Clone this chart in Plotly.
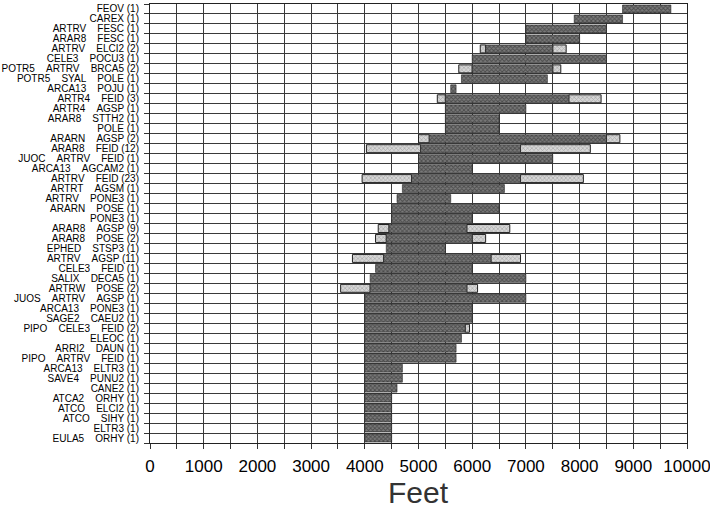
import plotly.graph_objects as go

# Plant community labels, top to bottom (associate / dominant / species (plots))
labels = [
    ["FEOV (1)"],
    ["CAREX (1)"],
    ["ARTRV", "FESC (1)"],
    ["ARAR8", "FESC (1)"],
    ["ARTRV", "ELCI2 (2)"],
    ["CELE3", "POCU3 (1)"],
    ["POTR5", "ARTRV", "BRCA5 (2)"],
    ["POTR5", "SYAL", "POLE (1)"],
    ["ARCA13", "POJU (1)"],
    ["ARTR4", "FEID (3)"],
    ["ARTR4", "AGSP (1)"],
    ["ARAR8", "STTH2 (1)"],
    ["POLE (1)"],
    ["ARARN", "AGSP (2)"],
    ["ARAR8", "FEID (12)"],
    ["JUOC", "ARTRV", "FEID (1)"],
    ["ARCA13", "AGCAM2 (1)"],
    ["ARTRV", "FEID (23)"],
    ["ARTRT", "AGSM (1)"],
    ["ARTRV", "PONE3 (1)"],
    ["ARARN", "POSE (1)"],
    ["PONE3 (1)"],
    ["ARAR8", "AGSP (9)"],
    ["ARAR8", "POSE (2)"],
    ["EPHED", "STSP3 (1)"],
    ["ARTRV", "AGSP (11)"],
    ["CELE3", "FEID (1)"],
    ["SALIX", "DECA5 (1)"],
    ["ARTRW", "POSE (2)"],
    ["JUOS", "ARTRV", "AGSP (1)"],
    ["ARCA13", "PONE3 (1)"],
    ["SAGE2", "CAEU2 (1)"],
    ["PIPO", "CELE3", "FEID (2)"],
    ["ELEOC (1)"],
    ["ARRI2", "DAUN (1)"],
    ["PIPO", "ARTRV", "FEID (1)"],
    ["ARCA13", "ELTR3 (1)"],
    ["SAVE4", "PUNU2 (1)"],
    ["CANE2 (1)"],
    ["ATCA2", "ORHY (1)"],
    ["ATCO", "ELCI2 (1)"],
    ["ATCO", "SIHY (1)"],
    ["ELTR3 (1)"],
    ["EULA5", "ORHY (1)"],
]

# Elevation ranges in feet: outer (light) extremes and core (dark) range
low_start = [None, None, None, None, 6150, None, 5750, None, None, 5350,
             None, None, None, 5000, 4030, None, None, 3950, None, None,
             None, None, 4250, 4200, None, 3770, None, None, 3550, None,
             None, None, None, None, None, None, None, None, None, None,
             None, None, None, None]
core_start = [8800, 7900, 7000, 7000, 6250, 6000, 6000, 5800, 5600, 5500,
              5500, 5500, 5500, 5200, 5040, 5000, 5000, 4870, 4700, 4600,
              4500, 4500, 4450, 4400, 4400, 4350, 4200, 4100, 4100, 4000,
              4000, 4000, 4000, 4000, 4000, 4000, 4000, 4000, 4000, 4000,
              4000, 4000, 4000, 4000]
core_end = [9700, 8800, 8500, 8000, 7500, 8500, 7500, 7400, 5700, 7800,
            7000, 6500, 6500, 8500, 6900, 7500, 6000, 6900, 6600, 5600,
            6500, 6000, 5900, 6000, 5500, 6350, 6000, 7000, 5900, 7000,
            6000, 6000, 5870, 5800, 5700, 5700, 4700, 4700, 4600, 4500,
            4500, 4500, 4500, 4500]
high_end = [None, None, None, None, 7750, None, 7650, None, None, 8400,
            None, None, None, 8750, 8200, None, None, 8070, None, None,
            None, None, 6700, 6250, None, 6900, None, None, 6100, None,
            None, None, 5950, None, None, None, None, None, None, None,
            None, None, None, None]

x_ticks = [0, 1000, 2000, 3000, 4000, 5000, 6000, 7000, 8000, 9000, 10000]

gap = "\u00a0" * 4
tick_text = [gap.join(parts) for parts in labels]
rows = list(range(len(labels)))

dark_marker = dict(
    color="#555555",
    line=dict(color="#222222", width=0.6),
    pattern=dict(shape="x", fgcolor="#1e1e1e", bgcolor="#7a7a7a", size=3, solidity=0.5),
)
light_marker = dict(
    color="#bdbdbd",
    line=dict(color="#222222", width=1),
    pattern=dict(shape="x", fgcolor="#7e7e7e", bgcolor="#d6d6d6", size=3, solidity=0.4),
)

fig = go.Figure()

lo_y = [r for r in rows if low_start[r] is not None]
fig.add_trace(go.Bar(
    orientation="h", y=lo_y,
    base=[low_start[r] for r in lo_y],
    x=[core_start[r] - low_start[r] for r in lo_y],
    marker=light_marker, width=0.8, showlegend=False, hoverinfo="skip",
))

hi_y = [r for r in rows if high_end[r] is not None]
fig.add_trace(go.Bar(
    orientation="h", y=hi_y,
    base=[core_end[r] for r in hi_y],
    x=[high_end[r] - core_end[r] for r in hi_y],
    marker=light_marker, width=0.8, showlegend=False, hoverinfo="skip",
))

fig.add_trace(go.Bar(
    orientation="h", y=rows,
    base=core_start,
    x=[e - s for s, e in zip(core_start, core_end)],
    marker=dark_marker, width=0.8, showlegend=False, hoverinfo="skip",
))

# axis caption placed as an annotation below the tick labels
fig.add_annotation(
    text="Feet", xref="paper", yref="paper", x=0.5, y=-0.112,
    xanchor="center", yanchor="middle", showarrow=False,
    font=dict(size=30, color="#333"),
)

fig.update_layout(
    width=710, height=511,
    margin=dict(l=150, r=23, t=4, b=68),
    paper_bgcolor="white", plot_bgcolor="white",
    barmode="overlay",
    font=dict(family="Liberation Sans, Arial, sans-serif", color="black"),
    xaxis=dict(
        range=[0, 10000],
        automargin=False,
        tickvals=x_ticks,
        ticktext=[str(v) for v in x_ticks],
        tickfont=dict(size=17),
        ticklabeloverflow="allow",
        ticks="outside", ticklen=5, tickcolor="#333",
        showgrid=True, gridcolor="#3a3a3a", gridwidth=1,
        minor=dict(dtick=500, tick0=0, showgrid=True, gridcolor="#3a3a3a",
                   gridwidth=1, ticks="outside", ticklen=5, tickcolor="#333"),
        showline=True, linecolor="#222", linewidth=1, mirror=True,
        zeroline=False,
        ticklabelstandoff=3,
    ),
    yaxis=dict(
        range=[len(labels) - 0.5, -0.5],
        automargin=False,
        tickvals=rows, ticktext=tick_text,
        tickfont=dict(size=10),
        ticks="", showgrid=False,
        minor=dict(tick0=0.5, dtick=1, showgrid=True, gridcolor="#3a3a3a",
                   gridwidth=1, ticks="outside", ticklen=5, tickcolor="#333"),
        showline=True, linecolor="#222", linewidth=1, mirror=True,
        zeroline=False,
        ticklabelstandoff=8,
    ),
)

fig.write_html("out.html")
